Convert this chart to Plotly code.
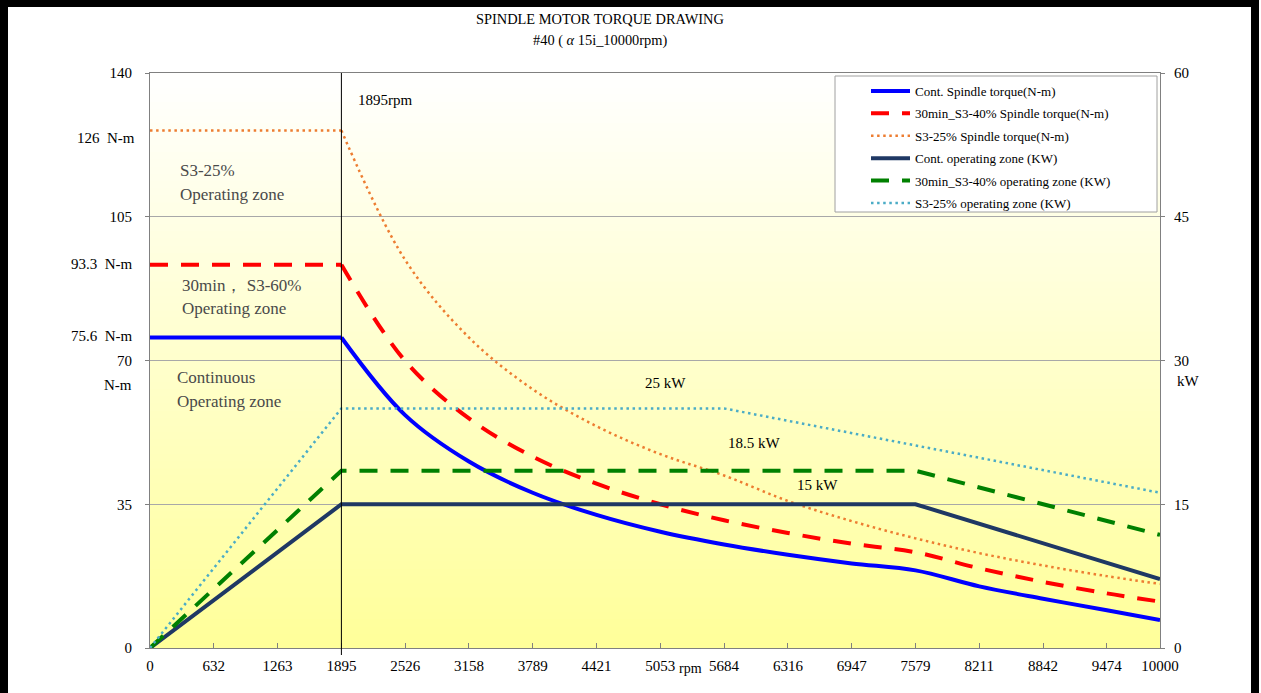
import plotly.graph_objects as go

# ---------------- data ----------------
rpm_ticks = [0, 632, 1263, 1895, 2526, 3158, 3789, 4421, 5053, 5684,
             6316, 6947, 7579, 8211, 8842, 9474, 10000]

torque_cont = [75.6, 75.6, 75.6, 75.6, 56.7, 45.4, 37.8, 32.4, 28.3, 25.2,
               22.7, 20.6, 18.9, 15.0, 12.0, 9.2, 6.8]
torque_30min = [93.3, 93.3, 93.3, 93.3, 69.9, 55.9, 46.6, 40.0, 35.0, 31.1,
                28.0, 25.4, 23.3, 19.4, 16.1, 13.3, 11.3]
torque_s325 = [126, 126, 126, 126, 94.5, 75.6, 63.0, 54.0, 47.2, 42.0,
               35.8, 30.9, 26.7, 23.1, 20.1, 17.5, 15.6]
knee_index = 3  # base speed 1895 rpm

power_cont_rpm = [0, 1895, 7579, 10000]
power_cont = [0, 15, 15, 7.2]
power_30min_rpm = [0, 1895, 7579, 10000]
power_30min = [0, 18.5, 18.5, 11.8]
power_s325_rpm = [0, 1895, 5684, 10000]
power_s325 = [0, 25, 25, 16.2]

left_ticks = [0, 35, 70, 105, 140]
right_ticks = [0, 15, 30, 45, 60]
base_rpm = 1895

names = ["Cont. Spindle torque(N-m)", "30min_S3-40% Spindle torque(N-m)",
         "S3-25% Spindle torque(N-m)", "Cont. operating zone (KW)",
         "30min_S3-40% operating zone (KW)", "S3-25% operating zone (KW)"]

# ---------------- pixel helpers (layout only) ----------------
W, H = 1261, 693
L, R, T, B = 150, 101, 73, 45
PW, PH = W - L - R, H - T - B


def px(x):
    return (x - L) / PW


def py(y):
    return (H - B - y) / PH


FONT = "Liberation Serif"
fig = go.Figure()

torque_series = [
    (torque_cont, names[0], dict(color="#0000FF", width=4, dash="solid")),
    (torque_30min, names[1], dict(color="#FF0000", width=4, dash="18px,13px")),
    (torque_s325, names[2], dict(color="#ED7D31", width=2.5, dash="2.5px,3.6px")),
]
power_series = [
    (power_cont_rpm, power_cont, names[3], dict(color="#1F3864", width=4, dash="solid")),
    (power_30min_rpm, power_30min, names[4], dict(color="#008000", width=4, dash="18px,13px")),
    (power_s325_rpm, power_s325, names[5], dict(color="#4BACC6", width=2.5, dash="2.5px,3.6px")),
]

for i, (vals, nm, ln) in enumerate(torque_series):
    g = "g%d" % i
    fig.add_trace(go.Scatter(x=rpm_ticks[:knee_index + 1], y=vals[:knee_index + 1],
                             mode="lines", name=nm, line=ln, legendgroup=g,
                             showlegend=True, yaxis="y"))
    fig.add_trace(go.Scatter(x=rpm_ticks[knee_index:], y=vals[knee_index:],
                             mode="lines", name=nm,
                             line=dict(ln, shape="spline", smoothing=1.0),
                             legendgroup=g, showlegend=False, yaxis="y"))

for j, (xs, ys, nm, ln) in enumerate(power_series):
    g = "g%d" % (j + 3)
    fig.add_trace(go.Scatter(x=xs, y=ys, mode="lines", name=nm, line=ln,
                             legendgroup=g, yaxis="y2"))

# ---------------- background gradient ----------------
shapes = []
N = 80
for k in range(N):
    t = (k + 0.5) / N  # 0 bottom -> 1 top
    b = int(round(153 + (255 - 153) * t))
    shapes.append(dict(type="rect", xref="x domain", yref="y domain",
                       x0=0, x1=1, y0=k / N, y1=(k + 1) / N + 0.002,
                       fillcolor="rgb(255,255,%d)" % b, line=dict(width=0),
                       layer="below"))

# base speed line
shapes.append(dict(type="line", xref="x", yref="paper", x0=base_rpm, x1=base_rpm,
                   y0=py(655), y1=1, line=dict(color="#000000", width=1)))

# legend box
shapes.append(dict(type="rect", xref="paper", yref="paper",
                   x0=px(835), x1=px(1157), y0=py(212), y1=py(76),
                   fillcolor="white", line=dict(color="#A0A0A0", width=1)))

# outer black frame (bottom edge lies outside the visible page)
for (x0, x1, y0, y1) in [(0, 8, 0, 693), (0, 1259, 0, 7), (1251, 1259, 0, 693)]:
    shapes.append(dict(type="rect", xref="paper", yref="paper",
                       x0=px(x0), x1=px(x1), y0=py(y1), y1=py(y0),
                       fillcolor="black", line=dict(width=0)))

# ---------------- annotations ----------------
ann = []


def add_text(text, x, y, xanchor="left", size=15, color="black"):
    ann.append(dict(text=text, x=x, y=y, xref="paper", yref="paper", xanchor=xanchor,
                    yanchor="middle", showarrow=False,
                    font=dict(family=FONT, size=size, color=color)))


add_text("SPINDLE MOTOR TORQUE DRAWING", px(600), py(19), "center", 14.4)
add_text("#40 ( <i>α</i> 15i_10000rpm)", px(600), py(40), "center", 14.4)
add_text("1895rpm", px(356), py(100), "left", 15)
grey = "#4A4A4A"
add_text("S3-25%", px(178), py(170), "left", 17, grey)
add_text("Operating zone", px(178), py(194), "left", 17, grey)
add_text("30min， S3-60%", px(180), py(285), "left", 17, grey)
add_text("Operating zone", px(180), py(308), "left", 17, grey)
add_text("Continuous", px(175), py(377), "left", 17, grey)
add_text("Operating zone", px(175), py(401), "left", 17, grey)
add_text("25 kW", px(665), py(383), "center", 15)
add_text("18.5 kW", px(754), py(443), "center", 15)
add_text("15 kW", px(817), py(485), "center", 15)
add_text("126  N-m", px(137), py(138), "right", 15)
add_text("93.3  N-m", px(135), py(264), "right", 15)
add_text("75.6  N-m", px(135), py(336), "right", 15)
add_text("N-m", px(134), py(385), "right", 15)
add_text("kW", px(1188), py(381), "center", 15)
add_text("rpm", px(690), py(668), "center", 14)

fig.update_layout(
    width=W, height=H,
    margin=dict(l=L, r=R, t=T, b=B, pad=0),
    paper_bgcolor="white", plot_bgcolor="white",
    font=dict(family=FONT, size=15, color="black"),
    shapes=shapes, annotations=ann,
    showlegend=True,
    legend=dict(x=px(866), y=py(76), xanchor="left", yanchor="top",
                bgcolor="rgba(0,0,0,0)", borderwidth=0,
                font=dict(family=FONT, size=13, color="black"),
                traceorder="grouped", tracegroupgap=2.5, itemwidth=39),
    xaxis=dict(range=[0, 10000], tickvals=rpm_ticks,
               ticktext=[str(v) for v in rpm_ticks],
               ticks="inside", ticklen=5, tickcolor="#808080",
               showline=True, linecolor="#808080", linewidth=1, mirror=True,
               showgrid=False, zeroline=False, ticklabelstandoff=4),
    yaxis=dict(range=[0, 140], tickvals=left_ticks, ticks="outside", ticklen=4,
               tickcolor="#808080", showline=True, linecolor="#808080",
               linewidth=1, showgrid=True, gridcolor="#A8A8A8", gridwidth=1,
               zeroline=False, ticklabelstandoff=10),
    yaxis2=dict(range=[0, 60], tickvals=right_ticks, overlaying="y", side="right",
                ticks="outside", ticklen=4, tickcolor="#808080",
                showline=True, linecolor="#808080", linewidth=1,
                showgrid=False, zeroline=False, ticklabelstandoff=6),
)

# page frame: left edge of the black border as a fixed page element
frame_js = (
    "document.body.style.margin='0';document.body.style.overflow='hidden';"
    "var d=document.createElement('div');"
    "d.style.cssText='position:fixed;left:0;top:0;width:8px;height:100%;background:#000;z-index:10';"
    "document.body.appendChild(d);"
)

fig.write_html(
    "out.html",
    config={"displayModeBar": False},
    post_script=frame_js,
)
